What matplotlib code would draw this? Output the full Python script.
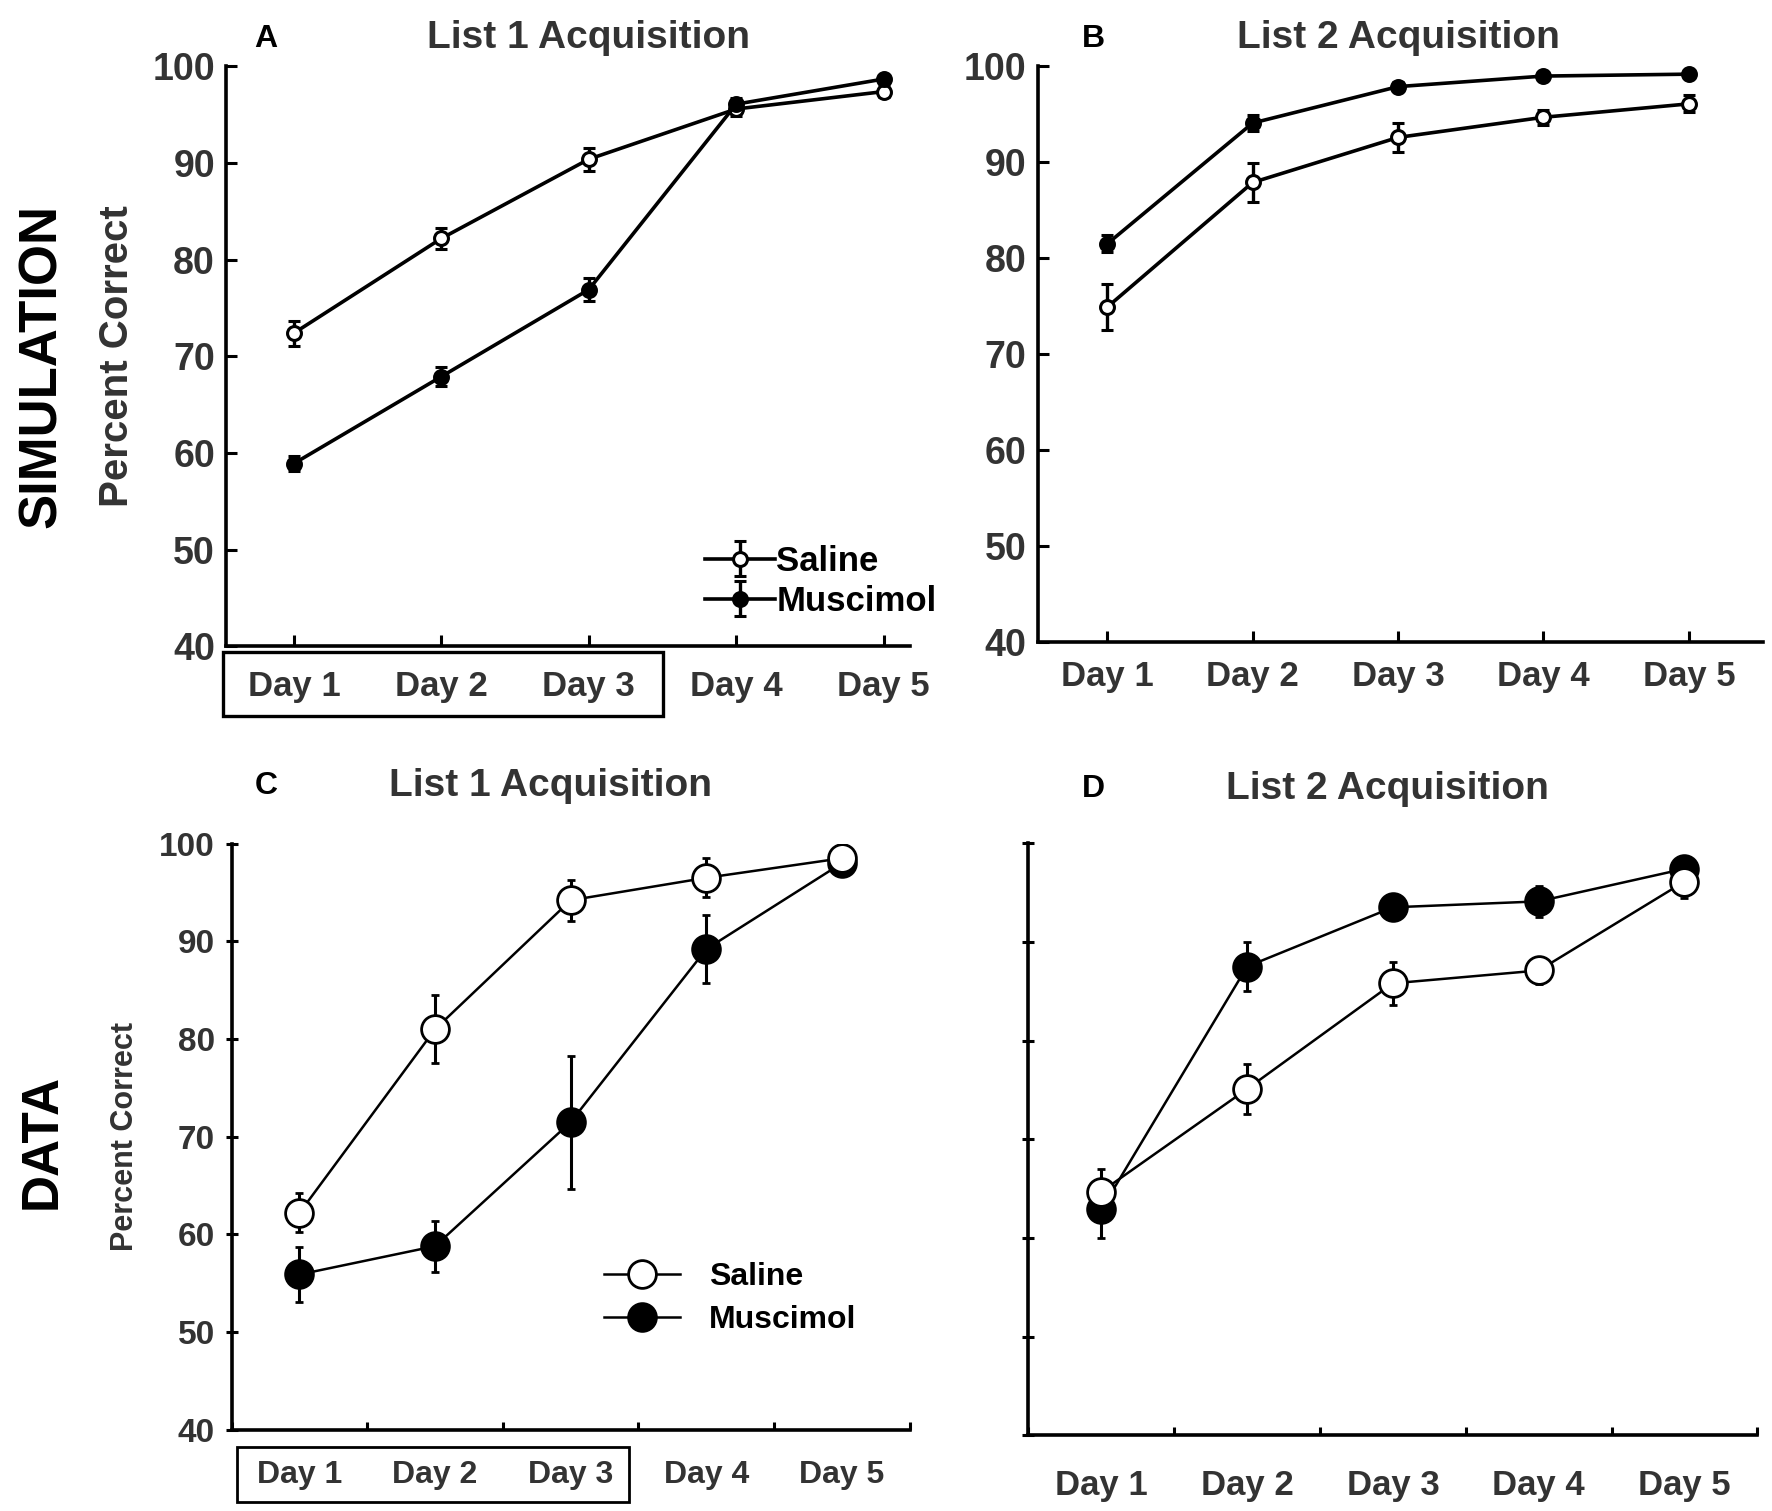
import matplotlib
matplotlib.use('Agg')
import matplotlib.pyplot as plt
from matplotlib.patches import Rectangle
from matplotlib.lines import Line2D
import numpy as np

plt.rcParams['font.family'] = ['Liberation Sans', 'DejaVu Sans']
plt.rcParams['font.weight'] = 'bold'
plt.rcParams['axes.labelweight'] = 'bold'

days = ['Day 1', 'Day 2', 'Day 3', 'Day 4', 'Day 5']
yticks = [40, 50, 60, 70, 80, 90, 100]

simA_saline = [72.4, 82.2, 90.4, 95.6, 97.4]
simA_saline_err = [1.3, 1.1, 1.2, 0.7, 0.6]
simA_musc = [58.9, 67.9, 76.9, 96.1, 98.7]
simA_musc_err = [0.8, 1.0, 1.2, 0.6, 0.4]

simB_saline = [74.9, 87.9, 92.6, 94.7, 96.1]
simB_saline_err = [2.4, 2.0, 1.5, 0.8, 0.9]
simB_musc = [81.5, 94.1, 97.9, 99.0, 99.2]
simB_musc_err = [0.9, 0.8, 0.5, 0.3, 0.3]

dataC_saline = [62.2, 81.0, 94.2, 96.5, 98.5]
dataC_saline_err = [2.0, 3.5, 2.1, 2.0, 0.5]
dataC_musc = [55.9, 58.8, 71.5, 89.2, 98.0]
dataC_musc_err = [2.8, 2.6, 6.8, 3.5, 0.5]

dataD_saline = [64.7, 75.1, 85.8, 87.1, 96.1]
dataD_saline_err = [2.3, 2.5, 2.2, 1.4, 1.7]
dataD_musc = [62.9, 87.5, 93.5, 94.1, 97.4]
dataD_musc_err = [2.9, 2.5, 1.2, 1.6, 0.5]

x = np.arange(1, len(days) + 1)
TXT = '#333333'

fig = plt.figure(figsize=(17.72, 15.11), dpi=100)

axA = fig.add_axes([0.1276, 0.5724, 0.386, 0.3836])
axB = fig.add_axes([0.5855, 0.5754, 0.4094, 0.3806])
axC = fig.add_axes([0.1307, 0.0537, 0.3827, 0.388])
axD = fig.add_axes([0.5804, 0.0500, 0.4113, 0.392])


def sim_panel(ax, sal, sal_e, mus, mus_e, xlim):
    hs = ax.errorbar(x, sal, yerr=sal_e, color='black', lw=2.6, marker='o', ms=10,
                     mfc='white', mec='black', mew=2.2, capsize=4, elinewidth=2.4,
                     capthick=2.4, zorder=3, label='Saline')
    hm = ax.errorbar(x, mus, yerr=mus_e, color='black', lw=2.6, marker='o', ms=10,
                     mfc='black', mec='black', mew=2.2, capsize=4, elinewidth=2.4,
                     capthick=2.4, zorder=3, label='Muscimol')
    ax.set_xlim(*xlim)
    ax.set_ylim(40, 100)
    ax.set_yticks(yticks)
    ax.set_xticks(x)
    ax.set_xticklabels(days)
    for s in ['top', 'right']:
        ax.spines[s].set_visible(False)
    for s in ['left', 'bottom']:
        ax.spines[s].set_linewidth(2.6)
    ax.tick_params(axis='both', direction='in', length=8, width=2.2,
                   labelsize=27, colors='black', labelcolor=TXT)
    ax.tick_params(axis='x', pad=17, labelsize=25)
    ax.tick_params(axis='y', pad=8)
    return hs, hm


def data_panel(ax, sal, sal_e, mus, mus_e, ylabels=True):
    hs = ax.errorbar(x, sal, yerr=sal_e, color='black', lw=1.8, marker='o', ms=20,
                     mfc='white', mec='black', mew=2.0, capsize=3, elinewidth=2.2,
                     capthick=2.2, zorder=3, label='Saline')
    hm = ax.errorbar(x, mus, yerr=mus_e, color='black', lw=1.8, marker='o', ms=20,
                     mfc='black', mec='black', mew=2.0, capsize=3, elinewidth=2.2,
                     capthick=2.2, zorder=2, label='Muscimol')
    ax.set_xlim(0.5, 5.5)
    ax.set_ylim(40, 100)
    ax.set_yticks(yticks)
    ax.set_xticks(np.arange(0.5, 6.0, 1.0))
    ax.set_xticks(x, minor=True)
    ax.set_xticklabels([])
    ax.set_xticklabels(days, minor=True)
    for s in ['top', 'right']:
        ax.spines[s].set_visible(False)
    for s in ['left', 'bottom']:
        ax.spines[s].set_linewidth(2.6)
    ax.tick_params(axis='x', which='major', direction='in', length=6, width=2.2)
    ax.tick_params(axis='x', which='minor', length=0, pad=22, labelsize=23,
                   labelcolor=TXT)
    ax.tick_params(axis='y', direction='inout', length=8, width=2.2, labelsize=24,
                   labelcolor=TXT, pad=8)
    if not ylabels:
        ax.set_yticklabels([])
    return hs, hm


hsA, hmA = sim_panel(axA, simA_saline, simA_saline_err, simA_musc, simA_musc_err, (0.54, 5.18))
sim_panel(axB, simB_saline, simB_saline_err, simB_musc, simB_musc_err, (0.52, 5.51))
axB.tick_params(axis='x', pad=13)
hsC, hmC = data_panel(axC, dataC_saline, dataC_saline_err, dataC_musc, dataC_musc_err)
data_panel(axD, dataD_saline, dataD_saline_err, dataD_musc, dataD_musc_err, ylabels=False)
axD.tick_params(axis='x', which='minor', labelsize=25, pad=24)

axA.set_ylabel('Percent Correct', fontsize=29, color=TXT, labelpad=12, fontweight='bold')
axC.set_ylabel('Percent Correct', fontsize=22, color=TXT, labelpad=14, fontweight='bold')

axA.legend(handles=[hsA, hmA], loc='lower left', bbox_to_anchor=(0.68, 0.025),
           frameon=False, fontsize=25, handlelength=2.0, handletextpad=0.05,
           labelspacing=0.2, borderaxespad=0)

legC = [Line2D([], [], color='black', lw=1.8, marker='o', ms=20, mfc='white', mec='black', mew=2.0),
        Line2D([], [], color='black', lw=1.8, marker='o', ms=20, mfc='black', mec='black', mew=2.0)]
axC.legend(legC, ['Saline', 'Muscimol'], loc='lower left', bbox_to_anchor=(0.53, 0.14),
           frameon=False, fontsize=23, handlelength=2.4, handletextpad=0.9,
           labelspacing=0.4, borderaxespad=0)

# titles and panel letters
fig.text(0.150, 0.974, 'A', fontsize=23, ha='center', va='center', color='black')
fig.text(0.332, 0.975, 'List 1 Acquisition', fontsize=28, ha='center', va='center', color=TXT)
fig.text(0.617, 0.974, 'B', fontsize=23, ha='center', va='center', color='black')
fig.text(0.789, 0.975, 'List 2 Acquisition', fontsize=28, ha='center', va='center', color=TXT)
fig.text(0.1505, 0.480, 'C', fontsize=23, ha='center', va='center', color='black')
fig.text(0.3106, 0.480, 'List 1 Acquisition', fontsize=28, ha='center', va='center', color=TXT)
fig.text(0.617, 0.4776, 'D', fontsize=23, ha='center', va='center', color='black')
fig.text(0.783, 0.4776, 'List 2 Acquisition', fontsize=28, ha='center', va='center', color=TXT)

fig.text(0.0236, 0.7575, 'SIMULATION', fontsize=38, rotation=90, ha='center', va='center', color='black')
fig.text(0.0236, 0.2448, 'DATA', fontsize=37, rotation=90, ha='center', va='center', color='black')

# boxes around Day 1 - Day 3 labels
fig.add_artist(Rectangle((0.1256, 0.526), 0.2488, 0.0427, transform=fig.transFigure,
                         fill=False, lw=2.4, ec='black'))
fig.add_artist(Rectangle((0.1339, 0.006), 0.2213, 0.0365, transform=fig.transFigure,
                         fill=False, lw=2.0, ec='black'))

fig.savefig('out.png', dpi=100, facecolor='white')
